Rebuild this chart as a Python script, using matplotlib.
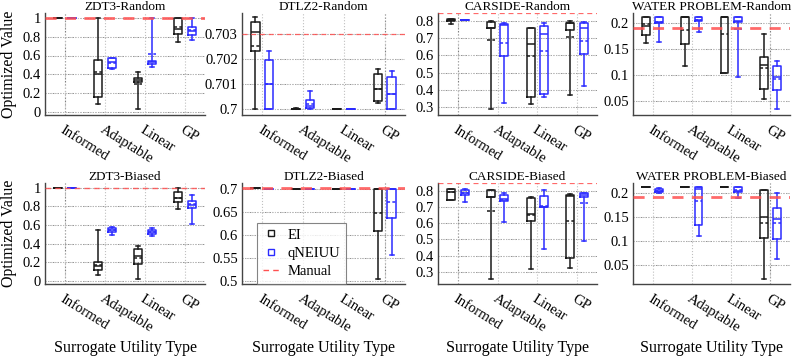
import matplotlib
matplotlib.use("Agg")
import matplotlib.pyplot as plt
from matplotlib.lines import Line2D

plt.rcParams['font.family'] = 'serif'
plt.rcParams['font.serif'] = ['Liberation Serif', 'DejaVu Serif']

categories = ['Informed', 'Adaptable', 'Linear', 'GP']

# box stats per category: (whislo, q1, med, q3, whishi, mean)
zdt3_rand_ei = [(1, 1, 1, 1, 1, 1), (0.082, 0.16, 0.404, 0.554, 1.0, 0.43),
                (0.03, 0.32, 0.34, 0.357, 0.43, 0.293), (0.743, 0.83, 0.88, 1.0, 1.0, 0.897)]
zdt3_rand_qn = [(1, 1, 1, 1, 1, 1), (0.455, 0.47, 0.53, 0.57, 0.575, 0.52),
                (0.482, 0.51, 0.532, 0.546, 1.0, 0.614), (0.768, 0.814, 0.857, 0.9, 1.0, 0.871)]

dtlz2_rand_ei = [(0.7, 0.70233, 0.70307, 0.70347, 0.70367, 0.70253), (0.7, 0.7, 0.7, 0.7, 0.70004, 0.7),
                 (0.7, 0.7, 0.7, 0.7, 0.7, 0.7), (0.70024, 0.70031, 0.70081, 0.70141, 0.7016, 0.70081)]
dtlz2_rand_qn = [(0.7, 0.7, 0.701, 0.70196, 0.70231, 0.701), (0.7, 0.70004, 0.70013, 0.70037, 0.70071, 0.70021),
                 (0.7, 0.7, 0.7, 0.7, 0.7, 0.7), (0.7, 0.7, 0.7006, 0.70127, 0.70153, 0.7006)]

carside_rand_ei = [(0.779, 0.8, 0.806, 0.81, 0.81, 0.805), (0.288, 0.756, 0.756, 0.794, 0.8, 0.688),
                   (0.317, 0.362, 0.663, 0.756, 0.756, 0.596), (0.371, 0.746, 0.785, 0.789, 0.8, 0.704)]
carside_rand_qn = [(0.804, 0.804, 0.804, 0.804, 0.804, 0.804), (0.323, 0.596, 0.775, 0.779, 0.79, 0.673),
                   (0.358, 0.375, 0.723, 0.769, 0.785, 0.627), (0.423, 0.608, 0.756, 0.785, 0.794, 0.685)]

water_rand_ei = [(0.1615, 0.1763, 0.1936, 0.2103, 0.2103, 0.1974), (0.1167, 0.16, 0.2103, 0.2103, 0.2103, 0.186),
                 (0.1038, 0.1038, 0.2103, 0.2103, 0.2103, 0.178), (0.0532, 0.0718, 0.1186, 0.1346, 0.178, 0.1135)]
water_rand_qn = [(0.1635, 0.2, 0.202, 0.2103, 0.2103, 0.202), (0.1827, 0.204, 0.206, 0.2103, 0.2103, 0.206),
                 (0.096, 0.202, 0.204, 0.2103, 0.2103, 0.188), (0.0333, 0.0705, 0.0962, 0.1167, 0.1269, 0.091)]

zdt3_bias_ei = [(1, 1, 1, 1, 1, 1), (0.071, 0.117, 0.166, 0.2, 0.548, 0.177),
                (0.028, 0.184, 0.272, 0.346, 0.378, 0.247), (0.767, 0.848, 0.89, 0.954, 1.0, 0.894)]
zdt3_bias_qn = [(1, 1, 1, 1, 1, 1), (0.495, 0.53, 0.548, 0.565, 0.576, 0.548),
                (0.488, 0.505, 0.53, 0.548, 0.565, 0.53), (0.611, 0.788, 0.82, 0.859, 0.919, 0.83)]

dtlz2_bias_ei = [(0.7029, 0.7029, 0.7029, 0.7029, 0.7029, 0.7029), (0.7, 0.7, 0.7, 0.7, 0.7, 0.7),
                 (0.7, 0.7, 0.7, 0.7, 0.7, 0.7), (0.5036, 0.608, 0.7, 0.7, 0.7, 0.647)]
dtlz2_bias_qn = [(0.7, 0.7, 0.7, 0.7, 0.7, 0.7), (0.7, 0.7, 0.7, 0.7, 0.7, 0.7),
                 (0.7, 0.7, 0.7, 0.7, 0.7, 0.7), (0.556, 0.637, 0.7, 0.7, 0.7, 0.671)]

carside_bias_ei = [(0.745, 0.745, 0.79, 0.81, 0.81, 0.79), (0.253, 0.759, 0.759, 0.806, 0.806, 0.673),
                   (0.32, 0.616, 0.657, 0.753, 0.759, 0.653), (0.324, 0.386, 0.769, 0.776, 0.78, 0.616)]
carside_bias_qn = [(0.729, 0.776, 0.784, 0.806, 0.81, 0.784), (0.606, 0.735, 0.749, 0.773, 0.786, 0.743),
                   (0.439, 0.698, 0.702, 0.765, 0.806, 0.708), (0.49, 0.759, 0.773, 0.784, 0.786, 0.724)]

water_bias_ei = [(0.2124, 0.2124, 0.2124, 0.2124, 0.2124, 0.2124), (0.2124, 0.2124, 0.2124, 0.2124, 0.2124, 0.2124),
                 (0.2124, 0.2124, 0.2124, 0.2124, 0.2124, 0.2124), (0.02, 0.105, 0.149, 0.2055, 0.2055, 0.138)]
water_bias_qn = [(0.2, 0.201, 0.204, 0.207, 0.209, 0.204), (0.111, 0.133, 0.207, 0.211, 0.211, 0.183),
                 (0.188, 0.2007, 0.204, 0.211, 0.211, 0.2055), (0.062, 0.103, 0.1447, 0.1675, 0.2, 0.138)]

titles = ['ZDT3-Random', 'DTLZ2-Random', 'CARSIDE-Random', 'WATER PROBLEM-Random',
          'ZDT3-Biased', 'DTLZ2-Biased', 'CARSIDE-Biased', 'WATER PROBLEM-Biased']
ei_data = [zdt3_rand_ei, dtlz2_rand_ei, carside_rand_ei, water_rand_ei,
           zdt3_bias_ei, dtlz2_bias_ei, carside_bias_ei, water_bias_ei]
qn_data = [zdt3_rand_qn, dtlz2_rand_qn, carside_rand_qn, water_rand_qn,
           zdt3_bias_qn, dtlz2_bias_qn, carside_bias_qn, water_bias_qn]
manual = [1.0, 0.703, 0.843, 0.19, 1.0, 0.7026, 0.845, 0.191]
ylims = [(-0.03, 1.05), (0.69976, 0.70384), (0.255, 0.845), (0.0225, 0.2187),
         (-0.03, 1.05), (0.4935, 0.713), (0.2245, 0.848), (0.0106, 0.220)]
yticks = [[0, 0.2, 0.4, 0.6, 0.8, 1], [0.7, 0.701, 0.702, 0.703],
          [0.3, 0.4, 0.5, 0.6, 0.7, 0.8], [0.05, 0.1, 0.15, 0.2],
          [0, 0.2, 0.4, 0.6, 0.8, 1], [0.5, 0.55, 0.6, 0.65, 0.7],
          [0.3, 0.4, 0.5, 0.6, 0.7, 0.8], [0.05, 0.1, 0.15, 0.2]]
dark_vline = [1, 4, 1, 4, 1, 4, 1, 4]
manual_lw = [2.0, 0.9, 0.9, 2.0, 1.0, 2.0, 0.9, 2.0]

EI_COLOR = '#1a1a1a'
QN_COLOR = '#2b2bff'
MAN_COLOR = '#ff5050'

W, H = 793, 357
fig = plt.figure(figsize=(W / 100, H / 100), dpi=100)

lefts = [45, 242, 438, 633]
widths = [160, 163, 159, 157]
tops = [13, 183]
heights = [102, 101]


def to_stats(rows):
    out = []
    for lo, q1, med, q3, hi, mean in rows:
        out.append(dict(whislo=lo, q1=q1, med=med, q3=q3, whishi=hi, mean=mean, fliers=[]))
    return out


for i in range(8):
    r, c = divmod(i, 4)
    ax = fig.add_axes([lefts[c] / W, 1 - (tops[r] + heights[r]) / H, widths[c] / W, heights[r] / H])
    pos = [1, 2, 3, 4]

    ax.set_xlim(0.5, 4.5)
    ax.set_ylim(*ylims[i])
    ax.set_yticks(yticks[i])
    ax.set_yticklabels(['%g' % v for v in yticks[i]])
    ax.set_xticks(pos)
    ax.set_xticklabels(categories, rotation=-32, ha='left', va='top', rotation_mode='anchor')

    ax.grid(True, linestyle=':', color='#c0c0c0', linewidth=0.8)
    for y in yticks[i]:
        ax.axhline(y, color='#666666', linestyle=(0, (1, 2)), linewidth=0.6, zorder=0.5)
    ax.axvline(dark_vline[i], color='#777777', linestyle=(0, (1, 2)), linewidth=0.8, zorder=0.5)
    ax.set_axisbelow(True)

    for data, color, off in [(ei_data[i], EI_COLOR, -0.17), (qn_data[i], QN_COLOR, 0.17)]:
        lp = dict(color=color, linewidth=1.1)
        ax.bxp(to_stats(data), positions=[p + off for p in pos], widths=0.2,
               showmeans=True, meanline=True, showfliers=False,
               boxprops=lp, whiskerprops=lp, capprops=lp, medianprops=lp,
               meanprops=dict(color=color, linewidth=1.1, linestyle=(0, (2, 1.5))),
               manage_ticks=False)

    ax.axhline(manual[i], color=MAN_COLOR, linestyle=(0, (4, 3)), linewidth=manual_lw[i], alpha=0.85, zorder=3)

    for s in ['top', 'right']:
        ax.spines[s].set_visible(False)
    for s in ['left', 'bottom']:
        ax.spines[s].set_color('#444444')
        ax.spines[s].set_linewidth(1.0)
    ax.tick_params(axis='both', length=0, pad=3)
    ax.tick_params(axis='y', labelsize=10.5)
    ax.tick_params(axis='x', labelsize=10.5, pad=6)
    ax.set_title(titles[i], fontsize=9.5, pad=2)

    if c == 0:
        ax.set_ylabel('Optimized Value', fontsize=11.5, labelpad=4)
    if r == 1:
        ax.text(0.5, -(352 - 284) / 101, 'Surrogate Utility Type', transform=ax.transAxes,
                ha='center', va='baseline', fontsize=11.5)

    if i == 5:
        handles = [Line2D([], [], color=EI_COLOR, marker='s', markerfacecolor='none', linestyle='none', markersize=5),
                   Line2D([], [], color=QN_COLOR, marker='s', markerfacecolor='none', linestyle='none', markersize=5),
                   Line2D([], [], color=MAN_COLOR, linestyle=(0, (4, 3)), linewidth=1.0)]
        leg = ax.legend(handles, ['EI', 'qNEIUU', 'Manual'], loc='lower left',
                        bbox_to_anchor=(0.09, 0.0), fontsize=10.5, frameon=True,
                        fancybox=False, handlelength=1.2, handletextpad=0.5,
                        borderaxespad=0, labelspacing=0.35)
        leg.get_frame().set_edgecolor('#666666')
        leg.get_frame().set_linewidth(0.8)

fig.savefig('out.png', dpi=100)
